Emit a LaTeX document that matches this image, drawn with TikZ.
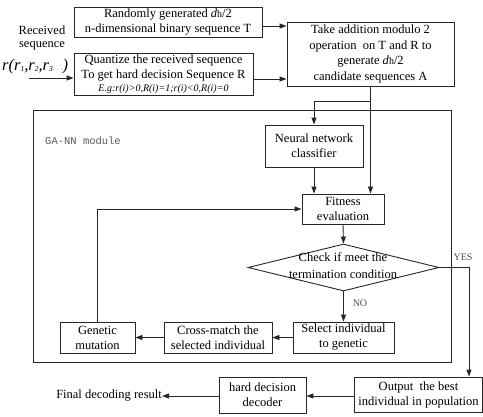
\documentclass[tikz,border=0pt]{standalone}
\usepackage{fontspec}
\setmainfont{Liberation Serif}
\setmonofont{Liberation Mono}
\usetikzlibrary{arrows.meta,shapes.geometric}
\begin{document}
\begin{tikzpicture}[x=1pt,y=-1pt,
  box/.style={draw=black!85, line width=0.9pt, inner sep=0pt, align=center, font=\fontsize{12.5}{15}\selectfont},
  arr/.style={-{Triangle[length=7pt,width=5pt]}, draw=black!85, line width=0.9pt},
  txt/.style={inner sep=0pt, align=center, font=\fontsize{12.5}{13.5}\selectfont},
  small/.style={inner sep=0pt, font=\fontsize{10}{12}\selectfont, text=black!70}]
\useasboundingbox (0,0) rectangle (483,416);

% top boxes
\node[box, minimum width=188pt, minimum height=30pt] (T) at (168,22)
  {Randomly generated \textit{d}{\fontsize{10}{12}\selectfont h}/2\\n-dimensional binary sequence T};
\node[box, minimum width=179pt, minimum height=42pt] (R) at (163.5,74)
  {Quantize the received sequence\\To get hard decision Sequence R\\[-2pt]
   {\fontsize{10}{12}\selectfont\itshape E.g:r(i)>0,R(i)=1;r(i)<0,R(i)=0}};
\node[box, minimum width=167pt, minimum height=64pt, font=\fontsize{12.5}{15.5}\selectfont] (A) at (370.5,54)
  {Take addition modulo 2\\operation\ \ on T and R to\\generate \textit{d}{\fontsize{10}{12}\selectfont h}/2\\candidate sequences A};

% input labels
\node[txt] (RS) at (42,38) {Received\\sequence};
\node[inner sep=0pt, anchor=west] (rr) at (2,67)
  {\fontsize{16.5}{16.5}\selectfont\itshape r(r\raisebox{-1pt}{\fontsize{7.5}{8}\selectfont 1},r\raisebox{-1pt}{\fontsize{7.5}{8}\selectfont 2},r\raisebox{-1pt}{\fontsize{7.5}{8}\selectfont 3$\cdots$})};
\coordinate (in) at (29,78);

% module
\node[draw=black!85, line width=0.9pt, minimum width=418pt, minimum height=252pt, inner sep=0pt] (M) at (242,236) {};
\node[anchor=west, inner sep=0pt, font=\ttfamily\fontsize{10.5}{12}\selectfont, text=black!65] (ML) at (45,141) {GA-NN module};

\node[box, minimum width=98pt, minimum height=42pt] (NN) at (314,146) {Neural network\\classifier};
\node[box, minimum width=82pt, minimum height=30pt] (F) at (343,209) {Fitness\\evaluation};
\node[diamond, draw=black!85, line width=0.9pt, minimum width=191pt, minimum height=47pt, inner sep=0pt] (D) at (343.5,267.5) {};
\node[txt, font=\fontsize{12.5}{17}\selectfont] (Dt) at (343,266) {Check if meet the\\termination condition};

\node[box, minimum width=101pt, minimum height=31pt] (S) at (343.5,337.5) {Select individual\\to genetic};
\node[box, minimum width=108pt, minimum height=31pt] (C) at (218,337.5) {Cross-match the\\selected individual};
\node[box, minimum width=75pt, minimum height=31pt] (G) at (97.5,337.5) {Genetic\\mutation};

% bottom
\node[box, minimum width=128pt, minimum height=35pt] (O) at (418.5,394.5) {Output\ \ the best\\individual in population};
\node[box, minimum width=87pt, minimum height=36pt] (H) at (262.5,395) {hard decision\\decoder};
\node[txt, anchor=east] (FD) at (162,396) {Final decoding result};

% labels
\node[small] (yes) at (463,257) {YES};
\node[small] (no) at (360,303) {NO};

% connectors
\draw[arr] (in) -- (R.west |- in);
\draw[arr] (T.east |- 0,26) -- (A.west |- 0,26);
\draw[arr] (R.east |- 0,79) -- (A.west |- 0,79);
\draw[arr] (A.south) -- (F.north -| A.south);
\coordinate (br) at (370.5,101);
\draw[arr] (br) -| (NN.north);
\draw[arr] (NN.south) -- (F.north -| NN.south);
\draw[arr] (F.south) -- (D.north);
\draw[arr] (D.south) -- (S.north);
\draw[arr] (S.west) -- (C.east);
\draw[arr] (C.west) -- (G.east);
\draw[arr] (G.north) |- (F.west);
\coordinate (yx) at (469,0);
\draw[arr] (D.east) -| (yx |- O.north);
\draw[arr] (O.west |- 0,396) -- (H.east |- 0,396);
\draw[arr] (H.west |- 0,396) -- (FD.east);
\end{tikzpicture}
\end{document}
